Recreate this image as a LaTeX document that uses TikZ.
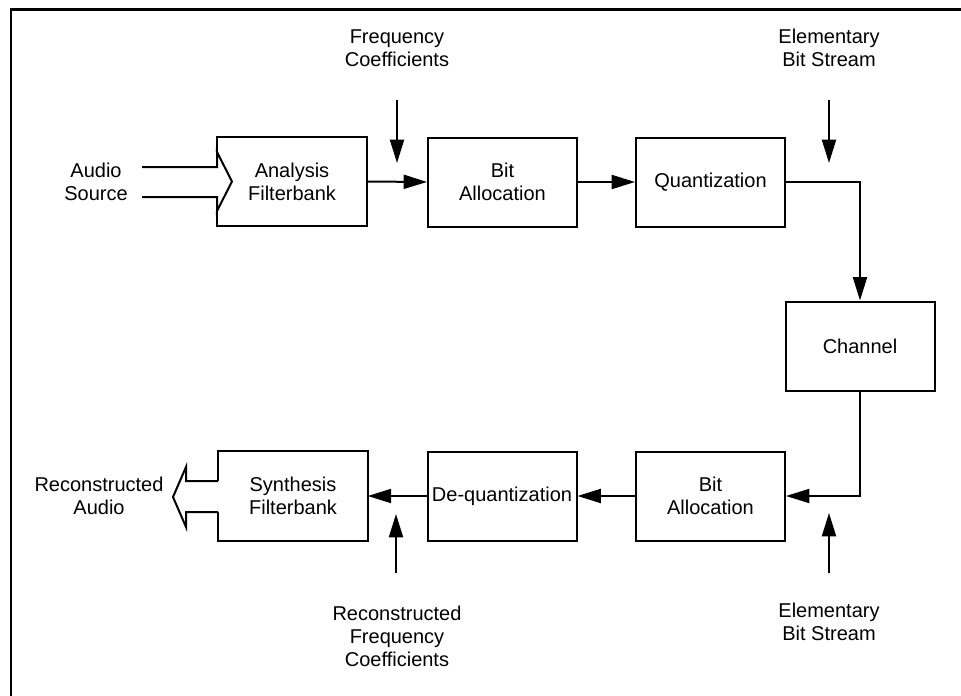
\documentclass[tikz,border=0pt]{standalone}
\usepackage{fontspec}
\setmainfont{Liberation Sans}
\usetikzlibrary{arrows.meta}
\begin{document}
\begin{tikzpicture}[x=0.75pt,y=-0.75pt,
  every node/.style={font=\fontsize{15}{17.25}\selectfont},
  blk/.style={draw, line width=1.5pt, minimum width=111.75pt, minimum height=66.75pt, inner sep=0pt, align=center},
  openblk/.style={minimum width=111.75pt, minimum height=66.75pt, inner sep=0pt, align=center},
  lbl/.style={inner sep=0pt, align=center},
  conn/.style={line width=1.5pt, -{Triangle[length=17.5pt, width=10.5pt]}},
  plain/.style={line width=1.5pt, line join=miter}]
\useasboundingbox (0,0) rectangle (961,696);
% frame
\draw[line width=2.2pt] (11,696) -- (11,9.5) -- (961,9.5);
% blocks
\node[openblk] (an) at (292,181.5) {Analysis\\Filterbank};
\node[blk] (ba1) at (502.5,182) {Bit\\Allocation};
\node[blk] (qu) at (710.5,182) {Quantization};
\node[blk] (ch) at (860,346) {Channel};
\node[blk] (ba2) at (710.5,496) {Bit\\Allocation};
\node[blk] (dq) at (502,496) {De-quantization};
\node[openblk] (sy) at (293,496) {Synthesis\\Filterbank};
% open outlines of filterbanks
\draw[plain] (an.west |- 0,167) -- (an.north west) -- (an.north east) -- (an.south east) -- (an.south west) -- (an.west |- 0,197);
\draw[plain] (sy.west |- 0,481) -- (sy.north west) -- (sy.north east) -- (sy.south east) -- (sy.south west) -- (sy.west |- 0,512);
% labels
\node[lbl] (as) at (96,181.5) {Audio\\Source};
\node[lbl] (ra) at (99,496) {Reconstructed\\Audio};
\node[lbl] (fc) at (397,48) {Frequency\\Coefficients};
\node[lbl] (eb1) at (829,48) {Elementary\\Bit Stream};
\node[lbl] (eb2) at (829,622) {Elementary\\Bit Stream};
\node[lbl] (rfc) at (397,636) {Reconstructed\\Frequency\\Coefficients};
% hollow input arrow
\coordinate (inA) at (142,167);
\coordinate (inB) at (142,197);
\draw[plain] (inA) -- (an.west |- inA) -- (217,152) -- (232,181.5) -- (217,211) -- (an.west |- inB) -- (inB);
% hollow output arrow
\coordinate (outA) at (sy.west |- 0,481);
\coordinate (outB) at (sy.west |- 0,512);
\draw[plain] (outA) -- (186,481) -- (186,467) -- (173,497) -- (186,527) -- (186,512) -- (outB);
% connectors
\draw[conn] (an.east) -- (ba1.west);
\draw[conn] (ba1.east) -- (qu.west);
\draw[conn] (qu.east) -| (ch.north);
\draw[conn] (ch.south) |- (ba2.east);
\draw[conn] (ba2.west) -- (dq.east);
\draw[conn] (dq.west) -- (sy.east);
% side inputs
\coordinate (fcA) at (397,100); \coordinate (fcB) at (397,163);
\coordinate (e1A) at (829,100); \coordinate (e1B) at (829,163);
\coordinate (e2A) at (829,573); \coordinate (e2B) at (829,513);
\coordinate (rfA) at (396,573); \coordinate (rfB) at (396,514);
\draw[conn] (fcA) -- (fcB);
\draw[conn] (e1A) -- (e1B);
\draw[conn] (e2A) -- (e2B);
\draw[conn] (rfA) -- (rfB);
\end{tikzpicture}
\end{document}
